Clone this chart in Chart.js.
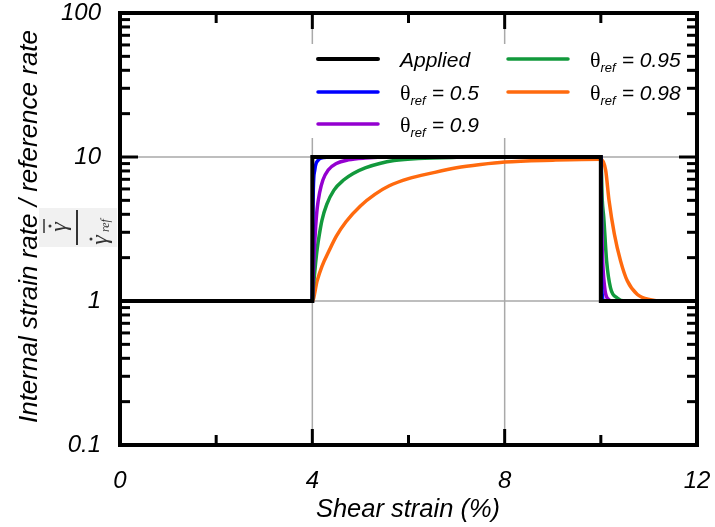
<!DOCTYPE html>
<html>
<head>
<meta charset="utf-8">
<script src="https://cdn.jsdelivr.net/npm/chart.js@4.4.1/dist/chart.umd.min.js"></script>
<style>
  html, body { margin: 0; padding: 0; background: #fff; }
</style>
</head>
<body>
<canvas id="chart" width="715" height="527"></canvas>
<script>
// values (x = shear strain %, y = rate ratio)
const appliedX = [0, 4, 4, 10, 10, 12];
const appliedY = [1, 1, 10, 10, 1, 1];

const theta05X = [0, 4, 4.004, 4.01, 4.02, 4.05, 4.12, 4.23, 4.4, 10, 10.004, 10.012, 10.03, 10.06, 12];
const theta05Y = [1, 1, 2.0, 3.5, 5.9, 8.1, 9.5, 9.9, 10, 10, 4.0, 1.6, 1.1, 1.0, 1];

const theta09X = [0, 4, 4.01, 4.02, 4.035, 4.05, 4.07, 4.1, 4.15, 4.22, 4.33, 4.5, 4.75, 5.1, 5.6, 10,
                  10.015, 10.03, 10.08, 10.13, 10.25, 12];
const theta09Y = [1, 1, 1.29, 1.58, 2.04, 2.57, 3.31, 4.37, 5.62, 6.92, 8.13, 9.02, 9.55, 9.84, 10, 10,
                  4.0, 2.24, 1.24, 1.05, 1.0, 1];

const theta095X = [0, 4, 4.02, 4.04, 4.07, 4.1, 4.15, 4.2, 4.3, 4.45, 4.65, 4.85, 5.1, 5.4, 5.7, 6.2, 7, 8, 10,
                   10.03, 10.06, 10.12, 10.2, 10.34, 10.5, 12];
const theta095Y = [1, 1, 1.23, 1.46, 1.86, 2.29, 2.95, 3.63, 4.68, 5.89, 6.92, 7.69, 8.41, 9.02, 9.44, 9.77, 9.95, 10, 10,
                   5.0, 3.83, 1.9, 1.24, 1.05, 1.0, 1];

const theta098X = [0, 4, 4.1, 4.2, 4.35, 4.5, 4.7, 5.0, 5.3, 5.6, 6.0, 6.5, 7.0, 7.5, 8.0, 9.0, 10,
                   10.1, 10.17, 10.28, 10.41, 10.55, 10.76, 11.03, 11.3, 12];
const theta098Y = [1, 1, 1.38, 1.74, 2.24, 2.82, 3.55, 4.57, 5.5, 6.31, 7.08, 7.76, 8.41, 8.87, 9.23, 9.51, 9.66,
                   8.1, 5.0, 2.93, 1.9, 1.38, 1.11, 1.02, 1.0, 1];

const seriesNames = ['Applied', '0.5', '0.9', '0.95', '0.98'];
const seriesColors = ['#000000', '#0000ff', '#9400d0', '#12993c', '#ff6a0e'];

const xTickValues = [0, 4, 8, 12];
const yTickValues = [0.1, 1, 10, 100];
const xGrid = [4, 8];
const yGrid = [1, 10];
const xMajorMarks = [4, 8];
const xMinorMarks = [2, 6, 10];
const yMajorMarks = [1, 10];
const yMinorMarks = [0.2, 0.3, 0.4, 0.5, 0.6, 0.7, 0.8, 0.9,
                     2, 3, 4, 5, 6, 7, 8, 9,
                     20, 30, 40, 50, 60, 70, 80, 90];

const xTitle = 'Shear strain (%)';
const yTitle = 'Internal strain rate / reference rate';

const FONT = "'Liberation Sans', Arial, sans-serif";
const SERIF = "'Liberation Serif', 'Times New Roman', serif";

function pts(xs, ys){ return xs.map((x, i) => ({x: x, y: ys[i]})); }

function line(ctx, x1, y1, x2, y2){
  ctx.beginPath(); ctx.moveTo(x1, y1); ctx.lineTo(x2, y2); ctx.stroke();
}

function noPad(s){
  s.paddingTop = 0; s.paddingBottom = 0; s.paddingLeft = 0; s.paddingRight = 0;
}

function drawLegendItem(ctx, x, y, color, name){
  ctx.save();
  ctx.strokeStyle = color;
  ctx.lineWidth = color === '#000000' ? 4 : 3.5;
  ctx.lineCap = 'round';
  line(ctx, x, y, x + 60, y);
  ctx.fillStyle = '#000';
  ctx.textBaseline = 'alphabetic';
  let tx = x + 82;
  const base = y + 7.5;
  if(name === 'Applied'){
    ctx.font = 'italic 21px ' + FONT;
    ctx.fillText(name, tx, base);
  } else {
    ctx.font = '22px ' + SERIF;
    ctx.fillText('\u03b8', tx, base);
    tx += ctx.measureText('\u03b8').width;
    ctx.font = 'italic 13px ' + FONT;
    ctx.fillText('ref', tx, base + 5);
    tx += ctx.measureText('ref').width + 6;
    ctx.font = 'italic 21px ' + FONT;
    ctx.fillText('= ' + name, tx, base);
  }
  ctx.restore();
}

function drawFormula(ctx, cx, cy){
  ctx.save();
  ctx.translate(cx, cy);
  ctx.rotate(-Math.PI / 2);
  ctx.fillStyle = '#f1f1f1';
  ctx.fillRect(-19, -39, 39, 78);
  ctx.strokeStyle = '#333'; ctx.fillStyle = '#333';
  ctx.lineWidth = 2;
  line(ctx, -17, -1, 18, -1);
  ctx.textAlign = 'center';
  // numerator: gamma-dot with bar
  ctx.font = 'italic 24px ' + SERIF;
  ctx.fillText('\u03b3', 1, -12);
  ctx.beginPath(); ctx.arc(2, -28, 1.5, 0, Math.PI * 2); ctx.fill();
  ctx.lineWidth = 1.5;
  line(ctx, -5, -34, 9, -34);
  // denominator: gamma-dot ref
  ctx.fillText('\u03b3', -12, 29);
  ctx.beginPath(); ctx.arc(-11, 13, 1.5, 0, Math.PI * 2); ctx.fill();
  ctx.font = 'italic 12px ' + SERIF;
  ctx.textAlign = 'left';
  ctx.fillText('ref', -4, 31);
  ctx.restore();
}

const decorPlugin = {
  id: 'decor',
  beforeDatasetsDraw(chart){
    const {ctx, chartArea: a, scales: {x, y}} = chart;
    ctx.save();
    ctx.strokeStyle = '#a9a9a9';
    ctx.lineWidth = 1.5;
    xGrid.forEach(v => { const px = x.getPixelForValue(v); line(ctx, px, a.top, px, a.bottom); });
    yGrid.forEach(v => { const py = y.getPixelForValue(v); line(ctx, a.left, py, a.right, py); });
    ctx.restore();
  },
  afterDatasetsDraw(chart){
    const {ctx, chartArea: a, scales: {x, y}} = chart;
    ctx.save();
    ctx.strokeStyle = '#000';
    ctx.lineWidth = 3;
    const xm = (vals, len) => vals.forEach(v => {
      const px = x.getPixelForValue(v);
      line(ctx, px, a.bottom, px, a.bottom - len);
      line(ctx, px, a.top, px, a.top + len);
    });
    const ym = (vals, len) => vals.forEach(v => {
      const py = y.getPixelForValue(v);
      line(ctx, a.left, py, a.left + len, py);
      line(ctx, a.right, py, a.right - len, py);
    });
    xm(xMajorMarks, 16); xm(xMinorMarks, 10);
    ym(yMajorMarks, 18); ym(yMinorMarks, 10);
    ctx.lineWidth = 4;
    ctx.strokeRect(a.left, a.top, a.right - a.left, a.bottom - a.top);

    // legend box
    ctx.fillStyle = '#fff';
    ctx.fillRect(305, 44, 380, 94);
    const ds = chart.data.datasets;
    const slots = [[318, 59], [318, 92], [318, 124], [508, 59], [508, 92]];
    ds.forEach((d, i) => drawLegendItem(ctx, slots[i][0], slots[i][1], d.borderColor, seriesNames[i]));
    ctx.restore();
  },
  afterDraw(chart){
    const {ctx} = chart;
    ctx.save();
    ctx.fillStyle = '#000';
    ctx.font = 'italic 25.5px ' + FONT;
    ctx.textAlign = 'center';
    ctx.textBaseline = 'alphabetic';
    ctx.fillText(xTitle, 408, 517);
    ctx.translate(36.5, 226.5);
    ctx.rotate(-Math.PI / 2);
    ctx.font = 'italic 26px ' + FONT;
    ctx.fillText(yTitle, 0, 0);
    ctx.restore();
    drawFormula(ctx, 78, 228);
  }
};

const allX = [appliedX, theta05X, theta09X, theta095X, theta098X];
const allY = [appliedY, theta05Y, theta09Y, theta095Y, theta098Y];

const datasets = allX.map((xs, i) => ({
  label: seriesNames[i],
  data: pts(xs, allY[i]),
  borderColor: seriesColors[i],
  borderWidth: i === 0 ? 4 : 3.5,
  pointRadius: 0,
  fill: false,
  cubicInterpolationMode: i === 0 ? 'default' : 'monotone',
  tension: 0,
  borderJoinStyle: 'miter'
}));

new Chart(document.getElementById('chart'), {
  type: 'line',
  data: { datasets: datasets },
  options: {
    responsive: false,
    animation: false,
    layout: { padding: { left: 0, right: 18, top: 13, bottom: 0 } },
    plugins: { legend: { display: false }, tooltip: { enabled: false } },
    scales: {
      x: {
        type: 'linear', min: 0, max: 12,
        grid: { display: false, drawTicks: false, tickLength: 0 },
        border: { display: false },
        afterBuildTicks: s => { s.ticks = xTickValues.map(v => ({value: v})); },
        afterFit: s => { s.height = 82; noPad(s); },
        ticks: {
          padding: 22, maxRotation: 0, color: '#000',
          font: { family: FONT, style: 'italic', size: 24 }
        }
      },
      y: {
        type: 'logarithmic', min: 0.1, max: 100,
        grid: { display: false, drawTicks: false, tickLength: 0 },
        border: { display: false },
        afterBuildTicks: s => { s.ticks = yTickValues.map(v => ({value: v, major: true})); },
        afterFit: s => { s.width = 120; noPad(s); },
        ticks: {
          padding: 19, color: '#000',
          font: { family: FONT, style: 'italic', size: 24 },
          callback: v => String(v)
        }
      }
    }
  },
  plugins: [decorPlugin]
});
</script>
</body>
</html>
